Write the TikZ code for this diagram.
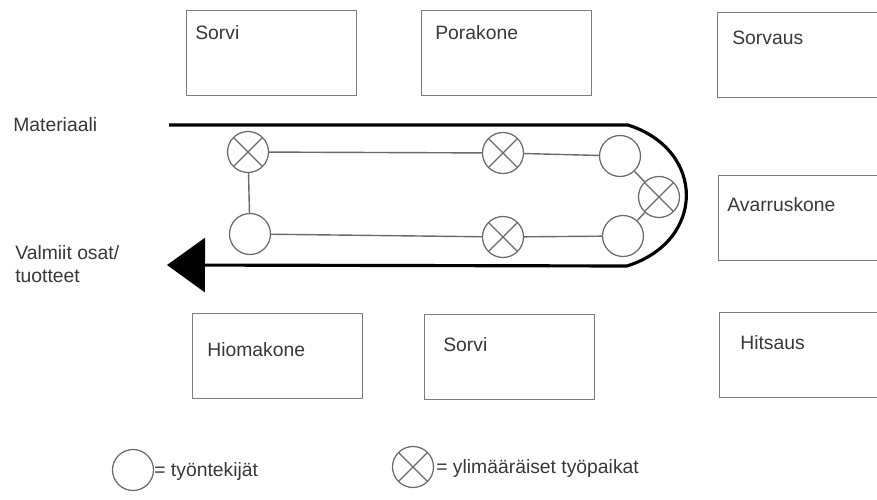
\documentclass[tikz,border=0pt]{standalone}
\usepackage{fontspec}
\setmainfont{Liberation Sans}
\usepackage{xcolor}
\usetikzlibrary{arrows.meta}
\definecolor{boxgray}{HTML}{7C7C7C}
\definecolor{circgray}{HTML}{6A6A6A}
\definecolor{txtgray}{HTML}{383838}

\begin{document}
\begin{tikzpicture}[x=0.02cm, y=-0.02cm,
    machine/.style={draw=boxgray, line width=0.8pt, anchor=north west,
        minimum width=3.4cm, minimum height=1.7cm, inner sep=0pt},
    mtext/.style={anchor=west, inner sep=0pt, text=txtgray,
        font=\fontsize{11}{13}\selectfont},
    worker/.style={shape=circle, draw=circgray, line width=0.7pt,
        minimum size=0.82cm, inner sep=0pt, fill=white},
    extra/.style={worker, path picture={
        \draw[circgray, line width=0.7pt]
          (path picture bounding box.north west) -- (path picture bounding box.south east)
          (path picture bounding box.north east) -- (path picture bounding box.south west);}},
    link/.style={draw=circgray, line width=0.8pt},
    flow/.style={line width=1.8pt}]
    \useasboundingbox (0,0) rectangle (877,500);
    \clip (0,0) rectangle (877,500);

    % machines, upper row
    \node[machine] (sorvi1) at (186,10) {};
    \node[mtext] (sorvi1txt) at ([shift={(9,23)}]sorvi1.north west) {Sorvi};
    \node[machine] (porakone) at (421,10) {};
    \node[mtext] (porakonetxt) at ([shift={(14,23)}]porakone.north west) {Porakone};
    \node[machine] (sorvaus) at (717,12) {};
    \node[mtext] (sorvaustxt) at ([shift={(15,26)}]sorvaus.north west) {Sorvaus};
    \node[machine] (avarrus) at (718,175) {};
    \node[mtext] (avarrustxt) at ([shift={(9,30)}]avarrus.north west) {Avarruskone};

    % machines, lower row
    \node[machine] (hioma) at (192,313) {};
    \node[mtext] (hiomatxt) at ([shift={(15,37)}]hioma.north west) {Hiomakone};
    \node[machine] (sorvi2) at (424,314) {};
    \node[mtext] (sorvi2txt) at ([shift={(19,31)}]sorvi2.north west) {Sorvi};
    \node[machine] (hitsaus) at (719,312) {};
    \node[mtext] (hitsaustxt) at ([shift={(21,31)}]hitsaus.north west) {Hitsaus};

    % material flow
    \coordinate (in) at (169,125);
    \coordinate (turnA) at (628,125);
    \coordinate (turnB) at (627,266);
    \coordinate (out) at (167,265);
    \draw[flow, line join=round, -{Triangle[length=0.76cm, width=1.08cm]}]
        (in) -- (turnA) .. controls (706,150) and (706,241) .. (turnB) -- (out);
    \node[mtext] (materiaali) at (13,125) {Materiaali};
    \node[mtext, align=left, anchor=north west] (valmiit) at (15,245) {Valmiit osat/\\tuotteet};

    % work stations
    \node[extra] (x1) at (248,152) {};
    \node[worker] (o1) at (250,234) {};
    \node[extra] (x2) at (503,153) {};
    \node[worker] (o2) at (620,156) {};
    \node[extra] (x3) at (659,197) {};
    \node[worker] (o3) at (623,236) {};
    \node[extra] (x4) at (503,237) {};
    \draw[link] (x1) -- (x2) -- (o2) -- (x3) -- (o3) -- (x4) -- (o1) -- (x1);

    % legend
    \node[worker] (lgo) at (133,470) {};
    \node[mtext] (lgotxt) at (154,472) {= työntekijät};
    \node[extra] (lgx) at (413,467) {};
    \node[mtext] (lgxtxt) at (436,469) {= ylimääräiset työpaikat};
\end{tikzpicture}
\end{document}
